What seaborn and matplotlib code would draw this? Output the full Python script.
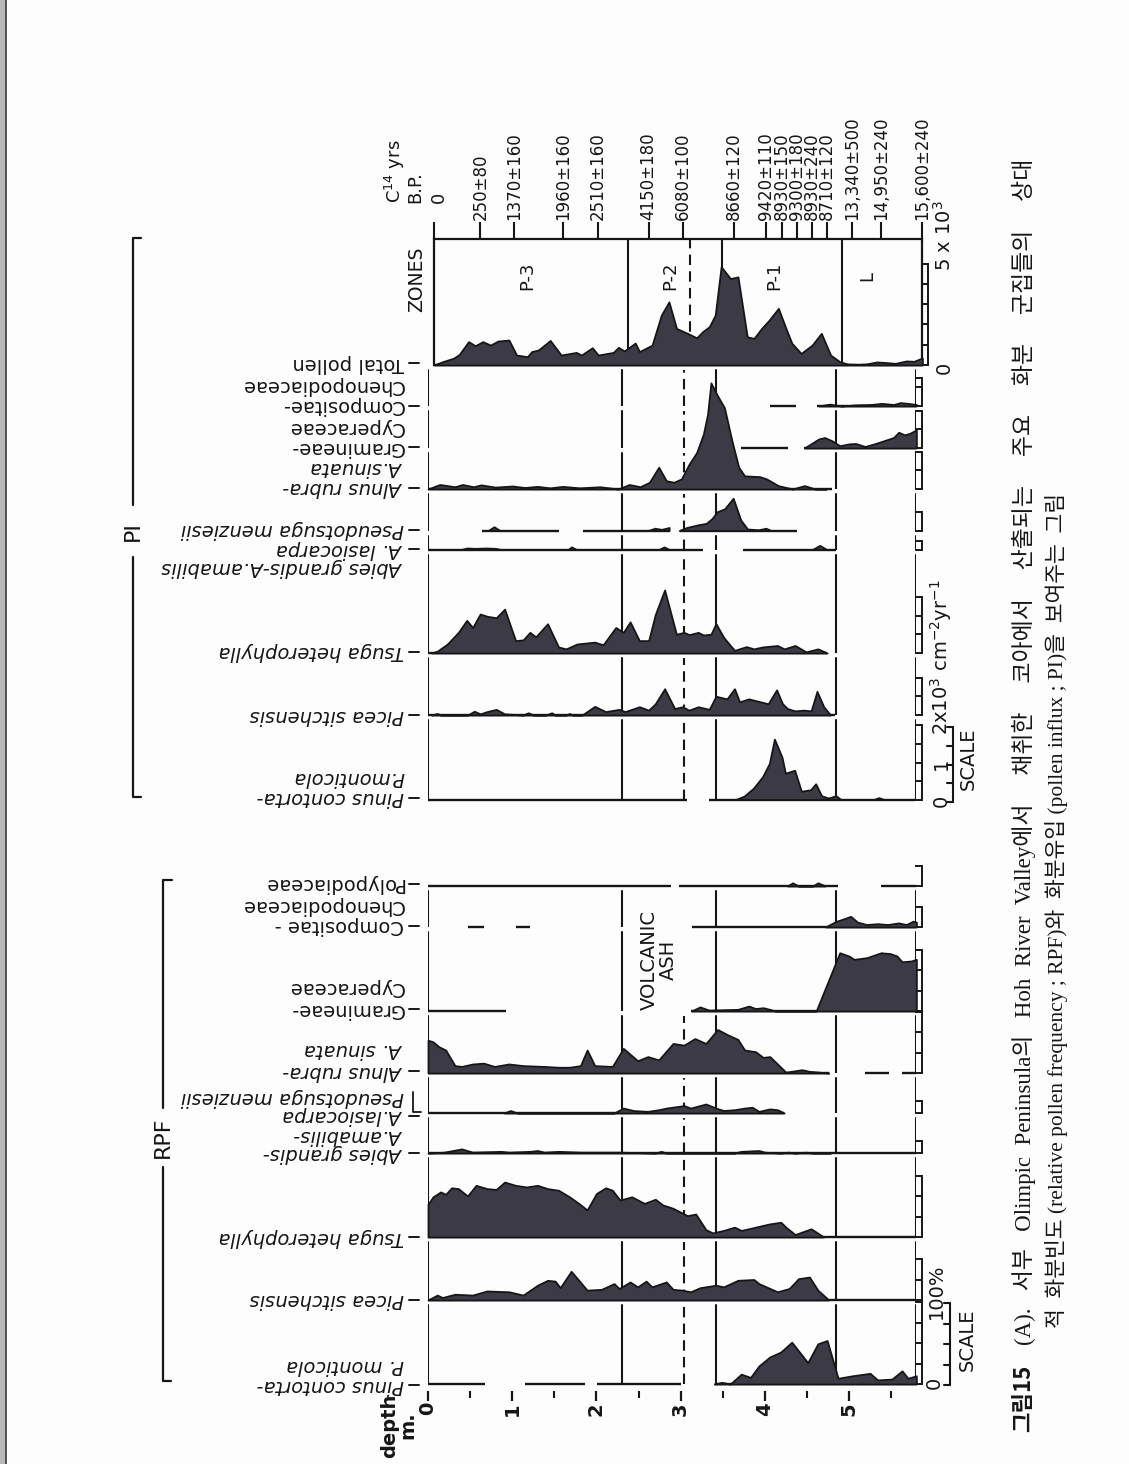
import numpy as np
import matplotlib
matplotlib.use("Agg")
import matplotlib.pyplot as plt
from matplotlib.patches import Rectangle
import seaborn as sns

sns.set_theme(style="white")
plt.rcParams['font.family'] = ['DejaVu Sans']
plt.rcParams['axes.unicode_minus'] = False

W, H = 1129, 1464
DMAX = 5.8
KX = 84.2
INK = '#161616'
FILL = '#3c3b45'

# ---------------- zones / dates (depth in m) ----------------
zone_bounds = [2.30, 3.42, 4.85]
zone_dashed = [3.04]
zone_names = ["P-3", "P-2", "P-1", "L"]
zone_label_depth = [1.11, 2.81, 4.04, 5.15]
c14_depth = [0.0, 0.55, 0.95, 1.53, 1.95, 2.55, 2.96, 3.56, 3.94, 4.13, 4.31, 4.49,
             4.67, 4.96, 5.31, 5.80]
c14_labels = ["0", "250±80", "1370±160", "1960±160", "2510±160", "4150±180", "6080±100",
              "8660±120", "9420±110", "8930±150", "9300±180", "8930±240", "8710±120",
              "13,340±500", "14,950±240", "15,600±240"]
depth_ticks = [0, 1, 2, 3, 4, 5]

# ---------------- pollen influx (x10^3 grains cm-2 yr-1) ----------------
total_pi = [(0, 0), (0.10, 0.16), (0.23, 0.33), (0.30, 0.52), (0.41, 1.15), (0.49, 0.95),
            (0.58, 1.15), (0.67, 0.98), (0.76, 1.18), (0.89, 1.23), (0.98, 0.49), (1.11, 0.41),
            (1.16, 0.66), (1.24, 0.74), (1.38, 1.21), (1.51, 0.49), (1.69, 0.62), (1.75, 0.49),
            (1.88, 0.85), (1.95, 0.49), (2.13, 0.62), (2.19, 0.87), (2.26, 0.69), (2.39, 1.08),
            (2.44, 0.66), (2.59, 0.98), (2.70, 2.46), (2.79, 3.11), (2.88, 1.80), (3.01, 1.56),
            (3.12, 1.34), (3.19, 1.64), (3.27, 1.89), (3.34, 2.46), (3.41, 4.84), (3.52, 4.26),
            (3.61, 4.34), (3.72, 1.39), (3.80, 1.31), (3.89, 1.80), (3.98, 2.21), (4.09, 2.79),
            (4.18, 1.80), (4.25, 1.07), (4.36, 0.57), (4.49, 0.98), (4.60, 1.56), (4.71, 0.49),
            (4.82, 0.16), (4.91, 0.05), (5.04, 0.03), (5.13, 0.05), (5.26, 0.15), (5.37, 0.12),
            (5.48, 0.08), (5.61, 0.20), (5.70, 0.18), (5.80, 0.35), (5.80, 0)]
comp_pi = [(4.64, 0), (4.77, 0.05), (4.91, 0), (5.08, 0.03), (5.26, 0.04), (5.39, 0.07),
           (5.53, 0.04), (5.61, 0.09), (5.70, 0.07), (5.80, 0.04), (5.80, 0)]
gram_pi = [(4.47, 0), (4.64, 0.24), (4.71, 0.28), (4.80, 0.19), (4.89, 0.06), (5.00, 0.11),
           (5.08, 0.12), (5.19, 0.04), (5.30, 0.11), (5.41, 0.19), (5.53, 0.28), (5.59, 0.42),
           (5.66, 0.35), (5.72, 0.39), (5.80, 0.48), (5.80, 0)]
alnus_pi = [(0.0, 0), (0.14, 0.12), (0.32, 0.06), (0.41, 0.12), (0.54, 0.06), (0.63, 0.11),
            (0.80, 0.05), (1.00, 0.08), (1.15, 0.04), (1.30, 0.07), (1.45, 0.03), (1.60, 0.07),
            (1.80, 0.03), (2.04, 0.06), (2.26, 0), (2.39, 0.12), (2.52, 0.06), (2.63, 0.18),
            (2.74, 0.58), (2.83, 0.22), (2.92, 0.18), (3.01, 0.27), (3.10, 0.66), (3.19, 0.97),
            (3.27, 1.46), (3.32, 1.99), (3.36, 2.83), (3.43, 2.52), (3.52, 2.17), (3.61, 1.28),
            (3.69, 0.58), (3.76, 0.35), (3.94, 0.33), (4.02, 0.27), (4.16, 0.09), (4.33, 0),
            (4.47, 0.09), (4.60, 0), (4.73, 0)]
pseudo_pi = [(0.72, 0), (0.79, 0.10), (0.86, 0), None,
             (2.62, 0), (2.70, 0.06), (2.78, 0.03), (2.87, 0.08), (2.87, 0), None,
             (2.99, 0), (3.08, 0.08), (3.21, 0.15), (3.31, 0.19), (3.38, 0.32), (3.44, 0.50),
             (3.53, 0.58), (3.63, 0.86), (3.72, 0.28), (3.80, 0.04), (3.93, 0.02), (4.02, 0.06),
             (4.08, 0)]
lasio_pi = [(0.40, 0), (0.47, 0.04), (0.57, 0.03), (0.70, 0.04), (0.81, 0.03), (0.87, 0), None,
            (1.67, 0), (1.71, 0.07), (1.77, 0), None, (2.75, 0), (2.81, 0.07), (2.87, 0), None,
            (4.57, 0), (4.66, 0.11), (4.74, 0)]
tsuga_pi = [(0.04, 0), (0.11, 0.05), (0.23, 0.24), (0.36, 0.55), (0.46, 0.87), (0.53, 0.68),
            (0.62, 1.04), (0.70, 0.98), (0.81, 0.94), (0.91, 1.17), (1.04, 0.33), (1.13, 0.35),
            (1.21, 0.55), (1.28, 0.43), (1.42, 0.78), (1.55, 0.16), (1.64, 0.11), (1.77, 0.24),
            (1.98, 0.29), (2.08, 0.22), (2.23, 0.68), (2.32, 0.55), (2.40, 0.83), (2.51, 0.33),
            (2.62, 0.33), (2.70, 1.03), (2.81, 1.68), (2.95, 0.50), (3.04, 0.55), (3.10, 0.49),
            (3.21, 0.55), (3.27, 0.48), (3.36, 0.50), (3.42, 0.78), (3.51, 0.42), (3.64, 0.07),
            (3.78, 0.17), (3.87, 0.11), (3.97, 0.16), (4.15, 0.20), (4.23, 0.11), (4.36, 0.20),
            (4.49, 0.03), (4.63, 0.11), (4.74, 0)]
picea_pi = [(0.04, 0), (0.11, 0.04), (0.15, 0), (0.47, 0), (0.55, 0.10), (0.62, 0.03),
            (0.70, 0.09), (0.81, 0.15), (0.91, 0.03), (1.13, 0), (1.19, 0.06), (1.25, 0),
            (1.40, 0), (1.47, 0.06), (1.51, 0), (1.64, 0), (1.68, 0.04), (1.72, 0), (1.83, 0),
            (1.98, 0.23), (2.11, 0.09), (2.27, 0.15), (2.34, 0.09), (2.51, 0.22), (2.62, 0.13),
            (2.70, 0.30), (2.81, 0.70), (2.93, 0.17), (3.02, 0.22), (3.10, 0.13), (3.21, 0.22),
            (3.34, 0.15), (3.42, 0.50), (3.55, 0.43), (3.64, 0.70), (3.70, 0.35), (3.81, 0.43),
            (3.95, 0.35), (4.04, 0.30), (4.14, 0.67), (4.21, 0.30), (4.27, 0.17), (4.36, 0.11),
            (4.46, 0.13), (4.55, 0.11), (4.62, 0.63), (4.70, 0.22), (4.78, 0)]
pinus_pi = [(3.66, 0), (3.76, 0.09), (3.87, 0.30), (3.98, 0.61), (4.06, 0.96), (4.12, 1.61),
            (4.21, 1.13), (4.25, 0.70), (4.36, 0.78), (4.44, 0.22), (4.55, 0.26), (4.61, 0.42),
            (4.68, 0.10), (4.76, 0.04), (4.85, 0.10), (4.91, 0), None,
            (5.30, 0), (5.36, 0.05), (5.42, 0)]

# ---------------- relative pollen frequency (%) ----------------
poly_rpf = [(4.27, 0), (4.33, 4), (4.40, 0), (4.57, 0), (4.63, 4), (4.72, 0)]
comp_rpf = [(4.72, 0), (4.85, 7), (4.91, 9), (5.02, 13), (5.10, 6), (5.21, 3), (5.34, 4),
            (5.46, 3), (5.59, 5), (5.68, 3), (5.76, 7), (5.80, 6), (5.80, 0)]
gram_rpf = [(3.13, 0), (3.23, 5), (3.34, 1), (3.68, 2), (3.81, 6), (3.89, 3), (3.98, 4),
            (4.06, 2), (4.12, 0), (4.61, 0), (4.89, 71), (5.00, 67), (5.06, 63), (5.21, 65),
            (5.38, 71), (5.49, 70), (5.57, 67), (5.63, 60), (5.74, 61), (5.80, 63), (5.80, 0)]
alnus_rpf = [(0.0, 0), (0.0, 40), (0.06, 38), (0.13, 32), (0.21, 28), (0.32, 9), (0.40, 8),
             (0.53, 11), (0.66, 12), (0.79, 8), (0.96, 11), (1.13, 9), (1.38, 8), (1.55, 7),
             (1.68, 7), (1.81, 9), (1.89, 28), (1.98, 9), (2.19, 8), (2.32, 30), (2.49, 15),
             (2.61, 20), (2.74, 16), (2.91, 36), (3.04, 34), (3.17, 42), (3.30, 36), (3.44, 53),
             (3.57, 46), (3.68, 41), (3.76, 28), (3.89, 26), (3.98, 19), (4.06, 20), (4.25, 1),
             (4.44, 4), (4.53, 2), (4.76, 0)]
lasio_rpf = [(0.90, 0), (0.98, 3), (1.06, 0), (2.21, 0), (2.32, 6), (2.44, 3), (2.61, 2),
             (2.74, 4), (2.83, 6), (3.04, 9), (3.12, 6), (3.30, 11), (3.42, 6), (3.51, 3),
             (3.64, 4), (3.76, 6), (3.85, 7), (3.93, 2), (4.06, 5), (4.15, 4), (4.23, 0)]
abies_rpf = [(0.0, 0), (0.19, 1), (0.40, 5), (0.53, 1), (0.87, 2), (0.96, 1), (1.21, 2),
             (1.30, 3), (1.38, 1), (1.55, 2), (1.81, 1), (2.00, 1), (2.27, 1), (2.70, 0),
             (2.77, 2), (2.83, 0), (3.64, 0), (3.72, 2), (3.93, 3), (4.00, 1), (4.19, 0),
             (4.28, 1), (4.36, 0), (4.49, 1), (4.57, 0), (4.78, 0)]
tsuga_rpf = [(0.0, 0), (0.0, 40), (0.06, 49), (0.15, 55), (0.21, 52), (0.28, 60), (0.36, 59),
             (0.47, 50), (0.57, 63), (0.70, 59), (0.81, 58), (0.91, 67), (1.04, 63), (1.17, 61),
             (1.30, 63), (1.42, 59), (1.55, 57), (1.68, 49), (1.79, 41), (1.89, 33), (2.00, 53),
             (2.11, 60), (2.19, 57), (2.28, 45), (2.42, 49), (2.57, 41), (2.70, 46), (2.79, 39),
             (2.91, 35), (3.08, 26), (3.18, 28), (3.30, 9), (3.38, 5), (3.51, 8), (3.64, 12),
             (3.72, 8), (3.85, 11), (3.93, 13), (4.06, 16), (4.19, 18), (4.25, 12), (4.36, 3),
             (4.55, 10), (4.70, 0)]
picea_rpf = [(0.00, 0), (0.11, 6), (0.17, 3), (0.32, 7), (0.53, 6), (0.70, 11), (0.96, 10),
             (1.13, 6), (1.30, 18), (1.42, 24), (1.51, 23), (1.57, 15), (1.70, 35), (1.89, 12),
             (2.06, 13), (2.21, 20), (2.27, 14), (2.40, 22), (2.49, 16), (2.59, 23), (2.66, 16),
             (2.83, 22), (2.91, 13), (3.02, 12), (3.12, 10), (3.23, 15), (3.42, 18), (3.51, 16),
             (3.68, 24), (3.87, 25), (3.93, 20), (4.15, 10), (4.29, 14), (4.40, 26), (4.53, 28),
             (4.63, 12), (4.76, 0)]
pinus_rpf = [(3.40, 0), (3.49, 2), (3.59, 0), (3.72, 12), (3.83, 8), (3.93, 22), (4.06, 33),
             (4.19, 39), (4.32, 51), (4.51, 26), (4.63, 49), (4.74, 53), (4.87, 7), (5.04, 10),
             (5.25, 13), (5.34, 5), (5.51, 6), (5.63, 16), (5.70, 7), (5.80, 10), (5.80, 0)]

# sampled depth ranges (baselines)
segs = {
    'total_pi': [(0, 5.8)], 'comp_pi': [(4.06, 4.37), (4.62, 5.8)],
    'gram_pi': [(3.72, 4.27), (4.47, 5.8)], 'alnus_pi': [(0, 4.80)],
    'pseudo_pi': [(0.64, 1.55), (1.84, 2.87), (2.99, 4.38)],
    'lasio_pi': [(0, 3.27), (3.74, 4.85)], 'tsuga_pi': [(0, 4.74)],
    'picea_pi': [(0, 4.83)], 'pinus_pi': [(0, 3.08), (3.34, 5.78)],
    'poly_rpf': [(0, 2.89), (2.98, 4.87), (5.38, 5.8)],
    'comp_rpf': [(0.48, 0.66), (1.04, 1.21), (3.13, 5.8)],
    'gram_rpf': [(0, 0.93), (3.12, 5.8)],
    'alnus_rpf': [(0, 4.76), (5.19, 5.47), (5.63, 5.8)],
    'lasio_rpf': [(0, 4.23)], 'abies_rpf': [(0, 5.8)], 'tsuga_rpf': [(0, 5.8)],
    'picea_rpf': [(0, 5.8)], 'pinus_rpf': [(0, 0.68), (1.15, 1.86), (2.01, 3.01), (3.41, 5.8)],
}

# ---------------- figure ----------------
fig = plt.figure(figsize=(W / 100, H / 100), dpi=100)
fig.patch.set_facecolor('#fdfdfd')
ov = fig.add_axes([0, 0, 1, 1])
ov.set_xlim(0, W)
ov.set_ylim(H, 0)
ov.axis('off')


def unpack(pts):
    d = np.array([np.nan if p is None else p[0] for p in pts])
    v = np.array([np.nan if p is None else p[1] for p in pts])
    return d, v


def strip(y_base, height, ppu, pts, seg, bracket, step, x0=428, lines=True, dashed=True):
    ax = fig.add_axes([x0 / W, 1 - y_base / H, DMAX * KX / W, height / H])
    ax.set_xlim(0, DMAX)
    ax.set_ylim(0, height / ppu)
    ax.patch.set_visible(False)
    for s in ('top', 'left', 'bottom'):
        ax.spines[s].set_visible(False)
    sp = ax.spines['right']
    sp.set_position(('axes', 1 + 6 / (DMAX * KX)))
    sp.set_bounds(0, bracket)
    sp.set_color(INK)
    sp.set_linewidth(1.4)
    ticks = list(np.arange(0, bracket + 1e-9, step))
    if ticks[-1] < bracket - 1e-9:
        ticks.append(bracket)
    ax.set_yticks(ticks)
    ax.yaxis.set_ticks_position('right')
    ax.tick_params(axis='y', right=True, left=False, direction='in', length=5, width=1.4,
                   color=INK, labelright=False, labelleft=False)
    ax.set_xticks([])
    if lines:
        top = 1 - 5 / height
        for d in [0] + zone_bounds + [DMAX]:
            ax.axvline(d, 0, top, color=INK, lw=1.5)
        if dashed:
            for d in zone_dashed:
                ax.axvline(d, 0, top, color=INK, lw=1.5, ls=(0, (5, 3)))
    for a, b in seg:
        ax.plot([a, b], [0, 0], color=INK, lw=1.7, solid_capstyle='butt', clip_on=False)
    if pts:
        d, v = unpack(pts)
        ax.fill_between(d, v, 0, facecolor=FILL, edgecolor=INK, lw=1.3, clip_on=False, zorder=3)
    return ax


# ZONES box with radiocarbon axis
axz = fig.add_axes([434 / W, 1 - 365 / H, DMAX * KX / W, (365 - 239) / H])
axz.set_xlim(0, DMAX)
axz.set_ylim(0, 1)
axz.patch.set_visible(False)
for s in ('top', 'left', 'right'):
    axz.spines[s].set_color(INK)
    axz.spines[s].set_linewidth(1.6)
axz.spines['bottom'].set_visible(False)
for d in zone_bounds:
    axz.axvline(d, color=INK, lw=1.5)
for d in zone_dashed:
    axz.axvline(d, color=INK, lw=1.5, ls=(0, (5, 3)))
axz.set_yticks([])
axz.xaxis.set_ticks_position('top')
axz.set_xticks(c14_depth)
axz.set_xticklabels([""] + c14_labels[1:], rotation=90, fontsize=12, color=INK)
axz.tick_params(axis='x', top=True, bottom=False, labeltop=True, labelbottom=False,
                direction='out', length=12, width=1.5, pad=2, color=INK)
for name, d in zip(zone_names, zone_label_depth):
    axz.text(d, 0.71, name, rotation=90, ha='center', va='center', fontsize=13, color=INK)

# PI strips
strip(365, 126, 20.3, total_pi, segs['total_pi'], 5, 1, x0=434, lines=False)
strip(406, 41, 37.5, comp_pi, segs['comp_pi'], 0.75, 0.5)
strip(448, 42, 37.5, gram_pi, segs['gram_pi'], 1.0, 0.5)
strip(489, 41, 37.5, alnus_pi, segs['alnus_pi'], 1.0, 0.5)
strip(531, 42, 37.5, pseudo_pi, segs['pseudo_pi'], 0.5, 0.5)
strip(550, 19, 37.5, lasio_pi, segs['lasio_pi'], 0.25, 0.5)
strip(653, 103, 37.5, tsuga_pi, segs['tsuga_pi'], 1.5, 0.5)
strip(715, 62, 37.5, picea_pi, segs['picea_pi'], 1.0, 0.5)
strip(800, 85, 37.5, pinus_pi, segs['pinus_pi'], 2.0, 0.5)

# RPF strips
strip(886, 20, 0.82, poly_rpf, segs['poly_rpf'], 25, 25, lines=False)
strip(927, 41, 0.82, comp_rpf, segs['comp_rpf'], 25, 25, dashed=False)
strip(1011, 84, 0.82, gram_rpf, segs['gram_rpf'], 75, 25, dashed=False)
strip(1073, 62, 0.82, alnus_rpf, segs['alnus_rpf'], 75, 25)
strip(1113, 40, 0.82, lasio_rpf, segs['lasio_rpf'], 15, 25)
strip(1153, 40, 0.82, abies_rpf, segs['abies_rpf'], 15, 25)
strip(1237, 84, 0.82, tsuga_rpf, segs['tsuga_rpf'], 75, 25)
strip(1300, 63, 0.82, picea_rpf, segs['picea_rpf'], 50, 25)
axd = strip(1384, 84, 0.82, pinus_rpf, segs['pinus_rpf'], 100, 25)

# depth axis
axd.set_xticks(depth_ticks)
axd.set_xticklabels([str(t) for t in depth_ticks])
axd.set_xticks(np.arange(0.5, 5.8, 1.0), minor=True)
axd.spines['bottom'].set_position(('outward', 5))
axd.tick_params(axis='x', which='major', bottom=True, direction='out', length=7, width=1.6,
                pad=1, labelbottom=True, color=INK, labelsize=14, labelrotation=90,
                labelcolor=INK)
axd.tick_params(axis='x', which='minor', bottom=True, direction='out', length=5, width=1.5,
                color=INK)
for lab in axd.get_xticklabels():
    lab.set_fontweight('bold')

# ---------------- labels (page is turned, so names read upside down) ----------------
pi_labels = [("Total pollen", 363, False, True), ("Chenopodiaceae", 385, False, False),
             ("Compositae-", 406, False, True), ("Cyperaceae", 427, False, False),
             ("Gramineae-", 447, False, True), ("A.sinuata", 468, True, False),
             ("Alnus rubra-", 488, True, True), ("Pseudotsuga menziesii", 530, True, True),
             ("A. lasiocarpa", 549, True, True), ("Abies grandis-A.amabilis", 567, True, False),
             ("Tsuga heterophylla", 652, True, True), ("Picea sitchensis", 715, True, True),
             ("P.monticola", 778, True, False), ("Pinus contorta-", 798, True, True)]
rpf_labels = [("Polypodiaceae", 884, False, True), ("Chenopodiaceae", 906, False, False),
              ("Compositae -", 926, False, True), ("Cyperaceae", 988, False, False),
              ("Gramineae-", 1009, False, True), ("A. sinuata", 1049, True, False),
              ("Alnus rubra-", 1071, True, True), ("Pseudotsuga menziesii", 1097, True, False),
              ("A.lasiocarpa", 1116, True, True), ("A.amabilis-", 1135, True, False),
              ("Abies grandis-", 1153, True, True), ("Tsuga heterophylla", 1237, True, True),
              ("Picea sitchensis", 1300, True, True), ("P. monticola", 1365, True, False),
              ("Pinus contorta-", 1385, True, True)]
for txt, y, it, tk in pi_labels + rpf_labels:
    ov.text(404, y, txt, rotation=180, ha='right', va='center', fontsize=14,
            style='italic' if it else 'normal', color=INK)
    if tk:
        ov.plot([409, 419], [y, y], color=INK, lw=1.4)
ov.plot([413, 413, 421], [1092, 1112, 1112], color=INK, lw=1.3)

# group brackets
ov.plot([141, 133, 133], [238, 238, 505], color=INK, lw=1.6)
ov.plot([133, 133, 141], [557, 797, 797], color=INK, lw=1.6)
ov.text(133, 531, "PI", rotation=90, ha='center', va='center', fontsize=16, color=INK)
ov.plot([172, 163, 163], [880, 880, 1108], color=INK, lw=1.6)
ov.plot([163, 163, 171], [1167, 1381, 1381], color=INK, lw=1.6)
ov.text(163, 1137, "RPF", rotation=90, ha='center', va='center', fontsize=16, color=INK)

# headers
ov.text(417, 279, "ZONES", rotation=90, ha='center', va='center', fontsize=13.5, color=INK)
ov.text(395, 203, r"C$^{14}$ yrs", rotation=90, ha='center', va='bottom', fontsize=13, color=INK)
ov.text(415, 203, "B.P.", rotation=90, ha='center', va='bottom', fontsize=13, color=INK)
ov.text(439, 203, c14_labels[0], rotation=90, ha='center', va='bottom', fontsize=13, color=INK)
ov.text(390, 1426, "depth", rotation=90, ha='center', va='center', fontsize=14,
        fontweight='bold', color=INK)
ov.text(408, 1425, "m.", rotation=90, ha='center', va='center', fontsize=14,
        fontweight='bold', color=INK)
ov.text(659, 960, "VOLCANIC\nASH", rotation=90, ha='center', va='center', fontsize=14,
        multialignment='center', color=INK, linespacing=1.0)

# scale bars
ov.plot([950, 950], [1385, 1303], color=INK, lw=1.5)
for k in range(5):
    yk = 1385 - k * 20.5
    ov.plot([944, 950], [yk, yk], color=INK, lw=1.5)
ov.text(934, 1383, "0", rotation=90, ha='center', va='center', fontsize=14, color=INK)
ov.text(936, 1291, "100%", rotation=90, ha='center', va='center', fontsize=14, color=INK)
ov.text(967, 1340, "SCALE", rotation=90, ha='center', va='center', fontsize=14, color=INK)

ov.plot([953, 953], [802, 727], color=INK, lw=1.5)
for k in range(5):
    yk = 802 - k * 18.75
    ov.plot([947, 953], [yk, yk], color=INK, lw=1.5)
ov.text(941, 801, "0", rotation=90, ha='center', va='center', fontsize=14, color=INK)
ov.text(941, 764, "1", rotation=90, ha='center', va='center', fontsize=14, color=INK)
ov.text(941, 735, r"2x10$^3$ cm$^{-2}$yr$^{-1}$", rotation=90, ha='center', va='bottom',
        fontsize=14, color=INK)
ov.text(968, 759, "SCALE", rotation=90, ha='center', va='center', fontsize=14, color=INK)

ov.text(944, 368, "0", rotation=90, ha='center', va='center', fontsize=14, color=INK)
ov.text(944, 271, r"5 x 10$^3$", rotation=90, ha='center', va='bottom', fontsize=14, color=INK)

# page edge
ov.add_patch(Rectangle((0, 0), 5, H, color='#b8b8b8'))
ov.plot([6, 6], [0, H], color='#3a3a3a', lw=1.2)

# caption
cap_font = ['Liberation Serif', 'Noto Sans CJK KR']
gap = "     "
ov.text(1024, 1432, "그림15", rotation=90, ha='center', va='bottom', fontsize=16,
        fontweight='bold', family=['Noto Sans CJK KR'], color=INK)
ov.text(1024, 1345, "(A).   서부   Olimpic  Peninsula의   Hoh  River  Valley에서" + gap + "채취한"
        + gap + "코아에서" + gap + "산출되는" + gap + "주요" + gap + "화분" + gap + "군집들의"
        + gap + "상대",
        rotation=90, ha='center', va='bottom', fontsize=16.5, family=cap_font, color=INK)
ov.text(1057, 1328, "적  화분빈도 (relative pollen frequency ; RPF)와  화분유입 (pollen influx ; PI)을  "
        "보여주는  그림",
        rotation=90, ha='center', va='bottom', fontsize=15.5, family=cap_font, color=INK)

fig.savefig("out.png", dpi=100, facecolor=fig.get_facecolor())
